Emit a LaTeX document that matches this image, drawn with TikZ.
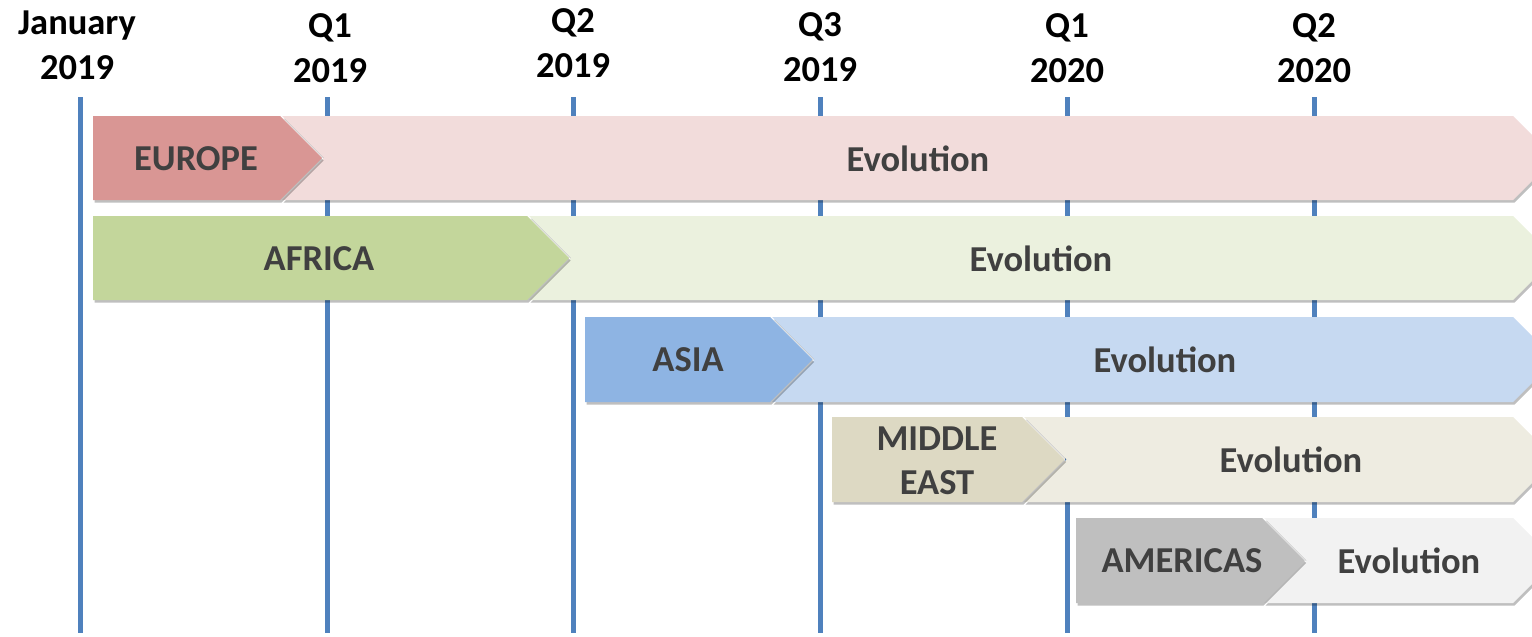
\documentclass[tikz,border=0pt]{standalone}
\usepackage{fontspec}
\setmainfont{Carlito}
\usetikzlibrary{shadows}
\definecolor{gridblue}{HTML}{4F81BD}
\definecolor{txtgray}{HTML}{404040}
\definecolor{euD}{HTML}{D99694}\definecolor{euL}{HTML}{F2DCDB}
\definecolor{afD}{HTML}{C3D69B}\definecolor{afL}{HTML}{EBF1DE}
\definecolor{asD}{HTML}{8EB4E3}\definecolor{asL}{HTML}{C6D9F1}
\definecolor{meD}{HTML}{DDD9C3}\definecolor{meL}{HTML}{EEECE1}
\definecolor{amD}{HTML}{BFBFBF}\definecolor{amL}{HTML}{F2F2F2}
\tikzset{
  gridline/.style={line width=5pt, gridblue},
  datelabel/.style={font=\fontsize{36.5}{45}\selectfont\bfseries, text=black, align=center, inner sep=0pt},
  arrowtext/.style={font=\fontsize{36.5}{44}\selectfont\bfseries, text=txtgray, align=center, inner sep=0pt},
  sh/.style={drop shadow={shadow xshift=1.5pt, shadow yshift=-2.5pt, opacity=0.25, fill=black}},
}
\begin{document}
\begin{tikzpicture}[x=1pt,y=-1pt]
\useasboundingbox (0,0) rectangle (1532,637);
\clip (0,0) rectangle (1532,637);
% vertical grid lines
\foreach \x/\n in {80/a,327/b,573/c,820/d,1067/e,1314/f}
  \draw[gridline] (\x,97) coordinate (top\n) -- (\x,633) coordinate (bot\n);
% date labels
\node[datelabel] (l0) at (77,45) {January\\2019};
\node[datelabel] (l1) at (330,48) {Q1\\2019};
\node[datelabel] (l2) at (573,43) {Q2\\2019};
\node[datelabel] (l3) at (820,47) {Q3\\2019};
\node[datelabel] (l4) at (1067,48) {Q1\\2020};
\node[datelabel] (l5) at (1314,48) {Q2\\2020};
% rows: top, bottom, start, dark end, dark colour, light colour
\foreach \t/\b/\s/\e/\cd/\cl in {116/200/93/280/euD/euL, 216/300/93/527/afD/afL, 317/402/585/770/asD/asL, 417/502/832/1022/meD/meL, 518/603/1076/1262/amD/amL}{
  \pgfmathsetmacro{\m}{(\t+\b)/2}
  \pgfmathsetmacro{\hh}{(\b-\t)/2}
  \path[fill=\cl, sh] (\e+2,\t) -- (1513,\t) -- (1513+\hh,\m) -- (1513,\b) -- (\e+2,\b) -- (\e+2+\hh,\m) -- cycle;
  \path[fill=\cd, sh] (\s,\t) -- (\e,\t) -- (\e+\hh,\m) -- (\e,\b) -- (\s,\b) -- cycle;
}
% arrow texts
\node[arrowtext] (eu) at (196,159) {EUROPE};
\node[arrowtext] (euv) at (918,159) {Evolution};
\node[arrowtext] (af) at (319,259) {AFRICA};
\node[arrowtext] (afv) at (1041,259) {Evolution};
\node[arrowtext] (as) at (688,360) {ASIA};
\node[arrowtext] (asv) at (1165,360) {Evolution};
\node[arrowtext] (me) at (937,461) {MIDDLE\\EAST};
\node[arrowtext] (mev) at (1291,460) {Evolution};
\node[arrowtext] (am) at (1182,561) {AMERICAS};
\node[arrowtext] (amv) at (1409,561) {Evolution};
\end{tikzpicture}
\end{document}
